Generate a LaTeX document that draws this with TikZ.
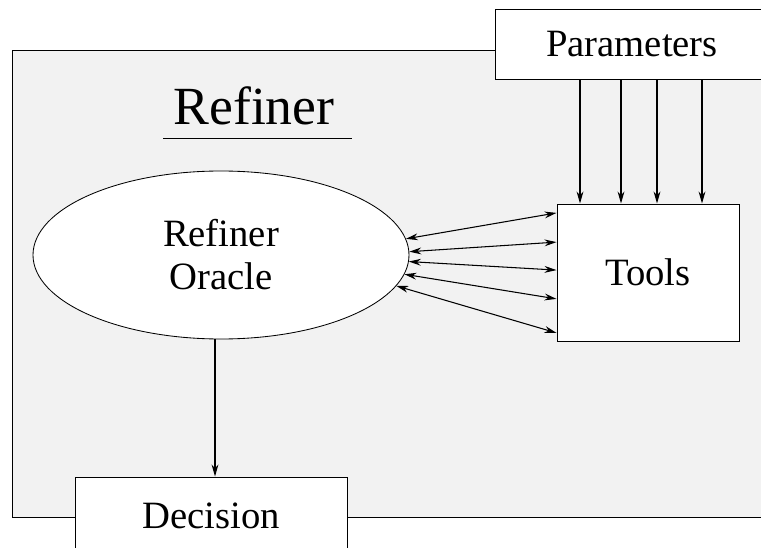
\documentclass[tikz,border=0pt]{standalone}
\usepackage{fontspec}
\setmainfont{Liberation Serif}
\usetikzlibrary{shapes,arrows.meta}

\begin{document}
\begin{tikzpicture}[
  box/.style={draw,fill=white,line width=0.7pt,inner sep=0pt,font=\fontsize{27.5}{30.6}\selectfont},
  oval/.style={ellipse,draw,fill=white,line width=0.6pt,inner sep=0pt,minimum width=9.4cm,minimum height=4.2cm,align=center,font=\fontsize{27.5}{30.6}\selectfont},
  link/.style={line width=0.75pt,-{Stealth[length=0.3cm,width=0.17cm]}},
  twoway/.style={line width=0.75pt,{Stealth[length=0.3cm,width=0.17cm]}-{Stealth[length=0.3cm,width=0.17cm]}}
]
  \useasboundingbox (0,0) rectangle (19.025,13.675);
  \clip (0,0) rectangle (19.025,13.675);
  %\draw[step=1cm,gray,very thin] (0,0) grid (19,13.5);
  \draw[line width=0.7pt,fill=gray!10] (0.3,0.75) rectangle (19.5,12.425);

  \node[anchor=base,font=\fontsize{38.2}{40}\selectfont] (title) at (6.35,10.55) {Refiner};
  \draw[line width=0.7pt] (4.075,10.225) -- (8.8,10.225);

  \node[oval] (oracle) at (5.525,7.3) {Refiner\\Oracle};
  \node[box,minimum width=4.55cm,minimum height=3.425cm] (tools) at (16.2,6.8625) {Tools};
  \node[box,minimum width=6.85cm,minimum height=1.75cm] (params) at (15.8,12.575) {Parameters};
  \node[box,minimum width=6.8cm,minimum height=1.95cm] (decision) at (5.275,0.775) {Decision};

  \foreach \x in {14.5,15.525,16.425,17.55}
    \draw[link] (params.south -| \x,0) -- (tools.north -| \x,0);

  \foreach \a/\d in {5/1.49,1/0.76,358/0.06,354/-0.66,350/-1.51}
    \draw[twoway] (oracle.\a) -- ([yshift=\d cm]tools.west);

  \draw[link] ([xshift=-0.15cm]oracle.south) -- ([xshift=-0.15cm]oracle.south |- decision.north);
\end{tikzpicture}
\end{document}
